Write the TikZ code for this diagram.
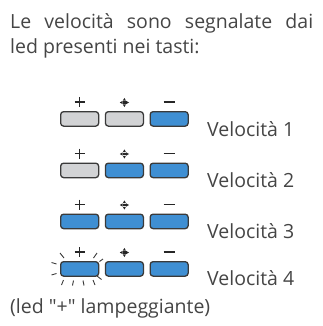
\documentclass[tikz,border=0pt]{standalone}
\usepackage{fontspec}
\setmainfont{Open Sans}
\newfontfamily\osplain{Open Sans}
\usetikzlibrary{arrows.meta,calc}
\definecolor{txt}{HTML}{454545}
\definecolor{keyblue}{HTML}{3F8FD3}
\definecolor{keygray}{HTML}{D2D3D5}
\definecolor{keyedge}{HTML}{3A3A3A}
\tikzset{
  key/.style={draw=keyedge, line width=1.3pt, rounded corners=3pt, minimum width=38pt, minimum height=14.5pt, inner sep=0pt, anchor=north west},
  keyon/.style={key, fill=keyblue},
  keyoff/.style={key, fill=keygray},
  sym/.style={draw=black!85, line width=1.5pt},
  lbl/.style={inner sep=0pt, anchor=base west, text=txt, font=\fontsize{19.5}{22}\selectfont},
  ray/.style={draw=keyedge, line width=0.9pt}
}
\begin{document}
\begin{tikzpicture}[x=1pt,y=-1pt]
\useasboundingbox (0,0) rectangle (323,326);
\node[lbl] (t1) at (10,29) {\makebox[303pt][s]{Le velocità sono segnalate dai}};
\node[lbl] (t2) at (10,54) {led presenti nei tasti:};
% rows
\foreach \r/\ty/\by/\fa/\fb/\fc in {1/111/136/keyoff/keyoff/keyon, 2/162.5/187/keyoff/keyon/keyon, 3/213.5/238/keyon/keyon/keyon, 4/261/285/keyon/keyon/keyon}{
  \node[\fa] (k\r a) at (60,\ty) {};
  \node[\fb] (k\r b) at (104.75,\ty) {};
  \node[\fc] (k\r c) at (149.5,\ty) {};
  \node[lbl] (v\r) at (207,\by) {Velocità \r};
  % plus
  \coordinate (p\r) at ($(k\r a.north)+(0,-9)$);
  \draw[sym] ($(p\r)+(-5,0)$) -- ($(p\r)+(5,0)$) ($(p\r)+(0,-5)$) -- ($(p\r)+(0,5)$);
  % minus
  \coordinate (m\r) at ($(k\r c.north)+(0,-9)$);
  \draw[sym] ($(m\r)+(-5.5,0)$) -- ($(m\r)+(5.5,0)$);
  % four-way symbol
  \coordinate (c\r) at ($(k\r b.north)+(0,-8.5)$);
  \fill[black!85] ($(c\r)+(-1.1,-1.1)$) rectangle ($(c\r)+(1.1,1.1)$);
  \foreach \dx/\dy in {1/0,-1/0,0/1,0/-1}{
    \fill[black!85] ($(c\r)+(4.6*\dx,4.6*\dy)$) -- ($(c\r)+(1.8*\dx+1.6*\dy,1.8*\dy+1.6*\dx)$) -- ($(c\r)+(1.8*\dx-1.6*\dy,1.8*\dy-1.6*\dx)$) -- cycle;
  }
}
% blinking rays
\draw[ray] (60,253) -- (64,258);
\draw[ray] (51.5,262.5) -- (56.5,264);
\draw[ray] (51.5,275) -- (56.5,273.5);
\draw[ray] (97,253) -- (93.5,258);
\draw[ray] (99.5,261.5) -- (103,259);
\draw[ray] (97,276) -- (101.5,279.5);
\draw[ray] (61.5,285) -- (63.5,280);
\draw[ray] (72.5,285.5) -- (73.5,280.5);
\draw[ray] (84,285.5) -- (83,280.5);
\draw[ray] (95,285) -- (93,280);
\node[lbl] (note) at (10,313) {(led {\osplain"}+{\osplain"} lampeggiante)};
\end{tikzpicture}
\end{document}
